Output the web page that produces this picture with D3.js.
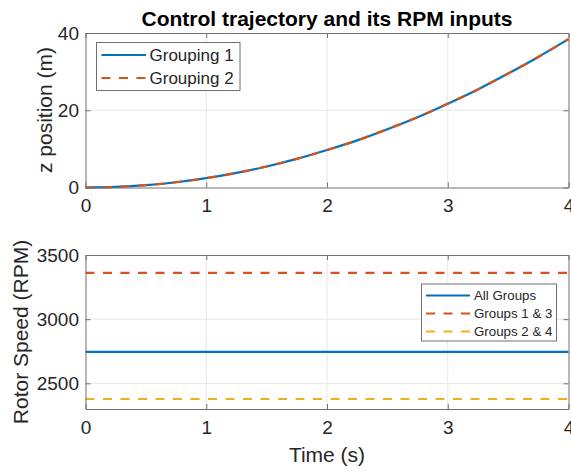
<!DOCTYPE html>
<html>
<head>
<meta charset="utf-8">
<script src="https://cdn.jsdelivr.net/npm/d3@7"></script>
<style>
  html, body { margin: 0; padding: 0; background: #ffffff; }
  svg { display: block; }
  text { font-family: "Liberation Sans", Arial, Helvetica, sans-serif; fill: #262626; }
</style>
</head>
<body>
<svg id="chart" width="571" height="472"></svg>
<script>
// ---- data ----
const timeTraj = [0, 0.25, 0.5, 0.75, 1, 1.25, 1.5, 1.75, 2, 2.25, 2.5, 2.75, 3, 3.25, 3.5, 3.75, 4];
const zGrouping1 = [0, 0.15, 0.6, 1.36, 2.42, 3.78, 5.45, 7.4, 9.7, 12.2, 15.1, 18.2, 21.7, 25.4, 29.5, 33.8, 38.4];
const zGrouping2 = [0, 0.15, 0.6, 1.36, 2.42, 3.78, 5.45, 7.4, 9.7, 12.2, 15.1, 18.2, 21.7, 25.4, 29.5, 33.8, 38.4];
const timeRPM = [0, 4];
const rpmAllGroups = [2745, 2745];
const rpmGroups13 = [3360, 3360];
const rpmGroups24 = [2378, 2378];
const xTicks = [0, 1, 2, 3, 4];
const zTicks = [0, 20, 40];
const rpmTicks = [2500, 3000, 3500];
const titleText = "Control trajectory and its RPM inputs";
const topLegend = ["Grouping 1", "Grouping 2"];
const bottomLegend = ["All Groups", "Groups 1 & 3", "Groups 2 & 4"];

// ---- styles ----
const C_BLUE = "#0072BD", C_ORANGE = "#D95319", C_YELLOW = "#EDB120";
const AXIS_COLOR = "#707070", GRID_COLOR = "#e6e6e6";
const DASH = "9,8.5";

const svg = d3.select("#chart");
const L = 85.5, R = 568.5;
const x = d3.scaleLinear().domain([0, 4]).range([L, R]);
const yTop = d3.scaleLinear().domain([0, 40]).range([187.5, 33]);
const yBot = d3.scaleLinear().domain([2300, 3500]).range([409, 255]);

function drawPanel(y, yTicks, T, B) {
  const g = svg.append("g");
  g.selectAll(".vg").data(xTicks.slice(1, -1)).enter().append("line")
    .attr("x1", d => x(d)).attr("x2", d => x(d)).attr("y1", T).attr("y2", B)
    .attr("stroke", GRID_COLOR).attr("stroke-width", 1);
  g.selectAll(".hg").data(yTicks.filter(v => y(v) > T + 1 && y(v) < B - 1)).enter().append("line")
    .attr("x1", L).attr("x2", R).attr("y1", d => y(d)).attr("y2", d => y(d))
    .attr("stroke", GRID_COLOR).attr("stroke-width", 1);
  return g;
}

function drawAxes(y, yTicks, T, B) {
  const styleAxis = sel => {
    sel.select(".domain").attr("stroke", AXIS_COLOR).attr("stroke-width", 1);
    sel.selectAll(".tick line").attr("stroke", AXIS_COLOR).attr("stroke-width", 1);
    sel.selectAll(".tick text").attr("fill", "#262626").style("font-size", "19px")
      .style("font-family", "'Liberation Sans', Arial, sans-serif");
  };
  svg.append("g").attr("transform", `translate(0,${B})`)
    .call(d3.axisBottom(x).tickValues(xTicks).tickFormat(d3.format("d")).tickSizeInner(-5).tickSizeOuter(0).tickPadding(11.5))
    .call(styleAxis);
  svg.append("g").attr("transform", `translate(0,${T})`)
    .call(d3.axisTop(x).tickValues(xTicks).tickFormat("").tickSizeInner(-5).tickSizeOuter(0))
    .call(styleAxis);
  svg.append("g").attr("transform", `translate(${L},0)`)
    .call(d3.axisLeft(y).tickValues(yTicks).tickFormat(d3.format("d")).tickSizeInner(-5).tickSizeOuter(0).tickPadding(6.5))
    .call(styleAxis);
  svg.append("g").attr("transform", `translate(${R},0)`)
    .call(d3.axisRight(y).tickValues(yTicks).tickFormat("").tickSizeInner(-5).tickSizeOuter(0))
    .call(styleAxis);
  svg.selectAll(".domain").attr("fill", "none");
}

// ---- top panel ----
drawPanel(yTop, zTicks, 33, 187.5);
const lineTop = d3.line().x((d, i) => x(timeTraj[i])).y(d => yTop(d)).curve(d3.curveMonotoneX);
svg.append("path").datum(zGrouping1).attr("d", lineTop)
  .attr("fill", "none").attr("stroke", C_BLUE).attr("stroke-width", 2.2);
svg.append("path").datum(zGrouping2).attr("d", lineTop)
  .attr("fill", "none").attr("stroke", C_ORANGE).attr("stroke-width", 2.2).attr("stroke-dasharray", DASH);
drawAxes(yTop, zTicks, 33, 187.5);

// ---- bottom panel ----
drawPanel(yBot, rpmTicks, 255, 409);
const lineBot = d3.line().x((d, i) => x(timeRPM[i])).y(d => yBot(d));
svg.append("path").datum(rpmGroups13).attr("d", lineBot)
  .attr("fill", "none").attr("stroke", C_ORANGE).attr("stroke-width", 2.2).attr("stroke-dasharray", DASH);
svg.append("path").datum(rpmAllGroups).attr("d", lineBot)
  .attr("fill", "none").attr("stroke", C_BLUE).attr("stroke-width", 2.2);
svg.append("path").datum(rpmGroups24).attr("d", lineBot)
  .attr("fill", "none").attr("stroke", C_YELLOW).attr("stroke-width", 2.2).attr("stroke-dasharray", DASH);
drawAxes(yBot, rpmTicks, 255, 409);

// ---- titles / labels ----
svg.append("text").attr("x", (L + R) / 2).attr("y", 26).attr("text-anchor", "middle")
  .style("font-size", "21px").style("font-weight", "bold").style("fill", "#000").text(titleText);
svg.append("text").attr("transform", "translate(52,110) rotate(-90)").attr("text-anchor", "middle")
  .style("font-size", "21px").text("z position (m)");
svg.append("text").attr("transform", "translate(28,332) rotate(-90)").attr("text-anchor", "middle")
  .style("font-size", "21px").text("Rotor Speed (RPM)");
svg.append("text").attr("x", (L + R) / 2).attr("y", 462).attr("text-anchor", "middle")
  .style("font-size", "21px").text("Time (s)");

// ---- legends ----
function legend(x0, y0, w, h, items, colors, dashes, rowYs, lineX1, lineX2, textX, fs) {
  svg.append("rect").attr("x", x0).attr("y", y0).attr("width", w).attr("height", h)
    .attr("fill", "#fff").attr("stroke", AXIS_COLOR).attr("stroke-width", 1);
  items.forEach((t, i) => {
    svg.append("line").attr("x1", lineX1).attr("x2", lineX2).attr("y1", rowYs[i]).attr("y2", rowYs[i])
      .attr("stroke", colors[i]).attr("stroke-width", 2.2)
      .attr("stroke-dasharray", dashes[i] ? DASH : null);
    svg.append("text").attr("x", textX).attr("y", rowYs[i]).attr("dy", "0.35em")
      .style("font-size", fs + "px").text(t);
  });
}
legend(96.5, 42.5, 143.5, 48, topLegend, [C_BLUE, C_ORANGE], [false, true], [55, 78], 101.5, 146, 149.5, 17);
legend(421.5, 284, 135, 57, bottomLegend, [C_BLUE, C_ORANGE, C_YELLOW], [false, true, true], [295.5, 313.5, 331.5], 426, 470, 474, 13.3);
</script>
</body>
</html>
